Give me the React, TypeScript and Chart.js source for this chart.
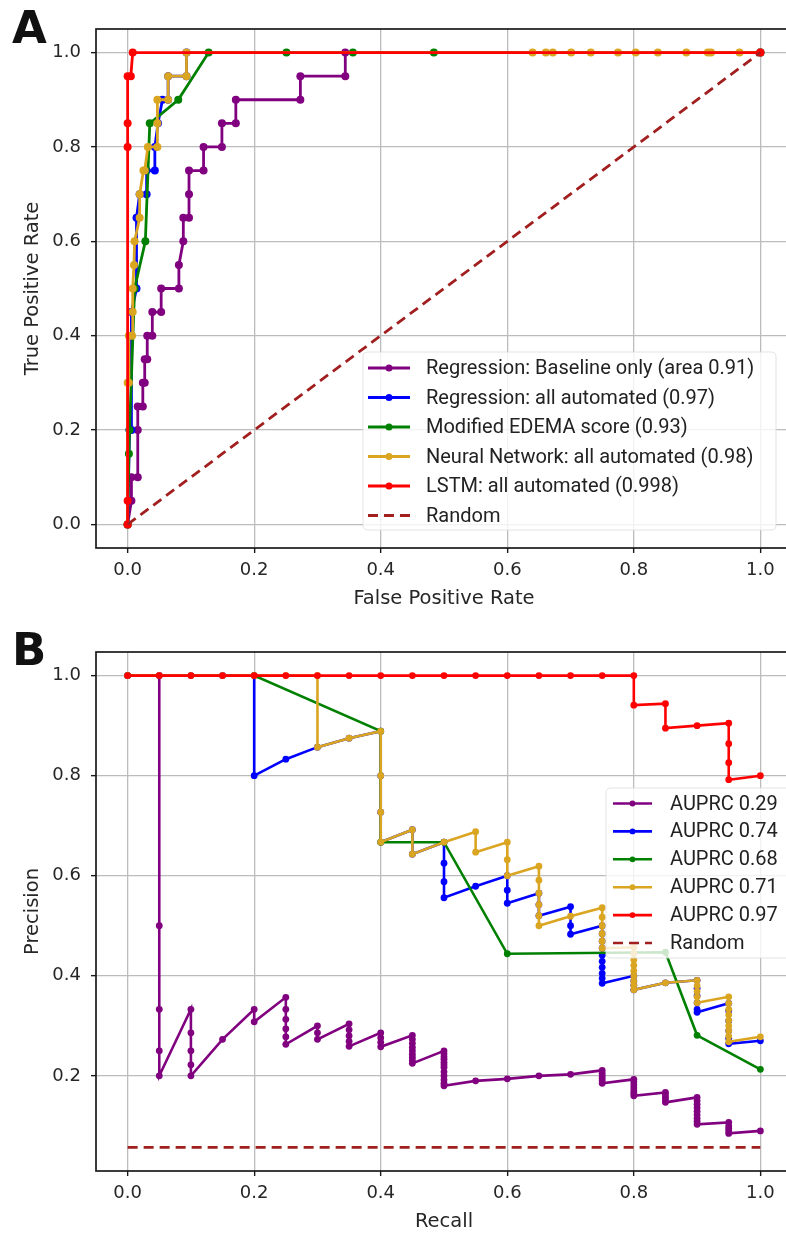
import React, { useEffect, useRef } from "react";
import { Chart, registerables } from "chart.js";

Chart.register(...registerables);

// ---------- tick values ----------
const X_TICKS = [0, 0.2, 0.4, 0.6, 0.8, 1.0];
const ROC_Y_TICKS = [0, 0.2, 0.4, 0.6, 0.8, 1.0];
const PR_Y_TICKS = [0.2, 0.4, 0.6, 0.8, 1.0];

// ---------- labels / colours ----------
const ROC_LABELS = [
  "Regression: Baseline only (area 0.91)",
  "Regression: all automated (0.97)",
  "Modified EDEMA score (0.93)",
  "Neural Network: all automated (0.98)",
  "LSTM: all automated (0.998)",
  "Random",
];
const PR_LABELS = ["AUPRC 0.29", "AUPRC 0.74", "AUPRC 0.68", "AUPRC 0.71", "AUPRC 0.97", "Random"];
const SERIES_COLORS = ["#800080", "#0000ff", "#008000", "#daa520", "#ff0000"];
const RANDOM_COLOR = "#a11f1f";

// ---------- ROC data: [FPR, TPR] ----------
const ROC_BASELINE: [number, number][] = [
  [0, 0], [0.006, 0.05], [0.006, 0.1], [0.016, 0.1], [0.016, 0.2], [0.016, 0.25], [0.024, 0.25],
  [0.024, 0.3], [0.027, 0.3], [0.027, 0.35], [0.031, 0.35], [0.031, 0.4], [0.039, 0.4], [0.039, 0.45],
  [0.053, 0.45], [0.053, 0.5], [0.081, 0.5], [0.081, 0.55], [0.088, 0.6], [0.088, 0.65], [0.097, 0.65],
  [0.097, 0.7], [0.097, 0.75], [0.12, 0.75], [0.12, 0.8], [0.149, 0.8], [0.149, 0.85], [0.171, 0.85],
  [0.171, 0.9], [0.273, 0.9], [0.273, 0.95], [0.344, 0.95], [0.344, 1.0], [1.0, 1.0],
];
const ROC_REGRESSION: [number, number][] = [
  [0, 0], [0.003, 0.2], [0.006, 0.2], [0.006, 0.45], [0.014, 0.5], [0.014, 0.65], [0.019, 0.7],
  [0.03, 0.7], [0.03, 0.75], [0.043, 0.75], [0.043, 0.8], [0.048, 0.85], [0.055, 0.9], [0.064, 0.9],
  [0.064, 0.95], [0.093, 0.95], [0.093, 1.0], [1.0, 1.0],
];
const ROC_EDEMA: [number, number][] = [
  [0, 0], [0.002, 0.15], [0.003, 0.2], [0.011, 0.5], [0.028, 0.6], [0.035, 0.85], [0.08, 0.9],
  [0.128, 1.0], [0.251, 1.0], [0.356, 1.0], [0.484, 1.0], [1.0, 1.0],
];
const ROC_NEURAL: [number, number][] = [
  [0, 0], [0, 0.3], [0.002, 0.3], [0.002, 0.4], [0.007, 0.4], [0.008, 0.45], [0.008, 0.5], [0.01, 0.55],
  [0.011, 0.6], [0.019, 0.65], [0.019, 0.7], [0.025, 0.75], [0.027, 0.75], [0.032, 0.8], [0.047, 0.8],
  [0.047, 0.85], [0.047, 0.9], [0.064, 0.9], [0.064, 0.95], [0.093, 0.95], [0.093, 1.0], [0.64, 1.0],
  [0.661, 1.0], [0.672, 1.0], [0.701, 1.0], [0.732, 1.0], [0.775, 1.0], [0.803, 1.0], [0.838, 1.0],
  [0.883, 1.0], [0.917, 1.0], [0.922, 1.0], [0.967, 1.0], [1.0, 1.0],
];
const ROC_LSTM: [number, number][] = [
  [0, 0], [0, 0.05], [0, 0.8], [0, 0.85], [0, 0.95], [0.005, 0.95], [0.008, 1.0], [1.0, 1.0],
];
const ROC_RANDOM: [number, number][] = [[0, 0], [1, 1]];

// ---------- PR data: [Recall, Precision] ----------
const PR_BASELINE: [number, number][] = [
  [0, 1.0], [0.05, 1.0], [0.05, 0.5], [0.05, 0.333], [0.05, 0.25], [0.05, 0.2],
  [0.1, 0.333], [0.1, 0.286], [0.1, 0.25], [0.1, 0.222], [0.1, 0.2],
  [0.15, 0.273],
  [0.2, 0.333], [0.2, 0.308],
  [0.25, 0.357], [0.25, 0.333], [0.25, 0.313], [0.25, 0.294], [0.25, 0.278], [0.25, 0.263],
  [0.3, 0.3], [0.3, 0.286], [0.3, 0.273],
  [0.35, 0.304], [0.35, 0.292], [0.35, 0.28], [0.35, 0.269], [0.35, 0.259],
  [0.4, 0.286], [0.4, 0.276], [0.4, 0.267], [0.4, 0.258],
  [0.45, 0.281], [0.45, 0.273], [0.45, 0.265], [0.45, 0.257], [0.45, 0.25], [0.45, 0.243], [0.45, 0.237], [0.45, 0.231], [0.45, 0.225],
  [0.5, 0.25], [0.5, 0.244], [0.5, 0.238], [0.5, 0.233], [0.5, 0.227], [0.5, 0.222], [0.5, 0.217], [0.5, 0.208], [0.5, 0.2], [0.5, 0.192], [0.5, 0.185], [0.5, 0.18],
  [0.55, 0.19], [0.6, 0.194], [0.65, 0.2], [0.7, 0.203],
  [0.75, 0.211], [0.75, 0.205], [0.75, 0.2], [0.75, 0.195], [0.75, 0.19], [0.75, 0.185],
  [0.8, 0.193], [0.8, 0.188], [0.8, 0.182], [0.8, 0.176], [0.8, 0.17], [0.8, 0.165], [0.8, 0.16],
  [0.85, 0.167], [0.85, 0.162], [0.85, 0.157], [0.85, 0.152], [0.85, 0.147],
  [0.9, 0.157], [0.9, 0.15], [0.9, 0.143], [0.9, 0.136], [0.9, 0.129], [0.9, 0.122], [0.9, 0.115], [0.9, 0.109], [0.9, 0.103],
  [0.95, 0.107], [0.95, 0.1], [0.95, 0.095], [0.95, 0.09], [0.95, 0.085],
  [1.0, 0.09],
];
const PR_REGRESSION: [number, number][] = [
  [0, 1], [0.05, 1], [0.1, 1], [0.15, 1], [0.2, 1], [0.2, 0.8], [0.25, 0.833], [0.3, 0.857], [0.35, 0.875],
  [0.4, 0.889], [0.4, 0.8], [0.4, 0.727], [0.4, 0.667], [0.45, 0.692], [0.45, 0.643], [0.5, 0.667],
  [0.5, 0.625], [0.5, 0.588], [0.5, 0.556], [0.55, 0.579], [0.6, 0.6], [0.6, 0.571], [0.6, 0.545],
  [0.65, 0.565], [0.65, 0.542], [0.65, 0.52], [0.7, 0.538], [0.7, 0.5], [0.7, 0.483], [0.75, 0.5],
  [0.75, 0.484], [0.75, 0.469], [0.75, 0.455], [0.75, 0.441], [0.75, 0.429], [0.75, 0.417], [0.75, 0.405],
  [0.75, 0.395], [0.75, 0.385], [0.8, 0.4], [0.8, 0.39], [0.8, 0.381], [0.8, 0.372], [0.85, 0.386],
  [0.9, 0.391], [0.9, 0.375], [0.9, 0.36], [0.9, 0.346], [0.9, 0.333], [0.9, 0.327], [0.95, 0.345],
  [0.95, 0.33], [0.95, 0.31], [0.95, 0.29], [0.95, 0.275], [0.95, 0.264], [1.0, 0.27],
];
const PR_EDEMA: [number, number][] = [
  [0, 1], [0.2, 1], [0.4, 0.889], [0.4, 0.667], [0.5, 0.667], [0.6, 0.444], [0.85, 0.447], [0.9, 0.281], [1.0, 0.213],
];
const PR_NEURAL: [number, number][] = [
  [0, 1], [0.05, 1], [0.1, 1], [0.15, 1], [0.2, 1], [0.25, 1], [0.3, 1], [0.3, 0.857], [0.35, 0.875],
  [0.4, 0.889], [0.4, 0.8], [0.4, 0.727], [0.4, 0.667], [0.45, 0.692], [0.45, 0.643], [0.5, 0.667],
  [0.55, 0.688], [0.55, 0.647], [0.6, 0.667], [0.6, 0.632], [0.6, 0.6], [0.65, 0.619], [0.65, 0.591],
  [0.65, 0.565], [0.65, 0.542], [0.65, 0.52], [0.65, 0.5], [0.7, 0.519], [0.75, 0.536], [0.75, 0.517],
  [0.75, 0.5], [0.75, 0.484], [0.75, 0.469], [0.75, 0.455], [0.8, 0.457], [0.8, 0.444], [0.8, 0.432],
  [0.8, 0.421], [0.8, 0.41], [0.8, 0.4], [0.8, 0.39], [0.8, 0.381], [0.8, 0.372], [0.85, 0.386],
  [0.9, 0.391], [0.9, 0.38], [0.9, 0.369], [0.9, 0.358], [0.9, 0.346], [0.95, 0.358], [0.95, 0.345],
  [0.95, 0.333], [0.95, 0.322], [0.95, 0.311], [0.95, 0.3], [0.95, 0.29], [0.95, 0.279], [0.95, 0.268],
  [1.0, 0.278],
];
const PR_LSTM: [number, number][] = [
  [0, 1], [0.05, 1], [0.1, 1], [0.15, 1], [0.2, 1], [0.25, 1], [0.3, 1], [0.35, 1], [0.4, 1], [0.45, 1],
  [0.5, 1], [0.55, 1], [0.6, 1], [0.65, 1], [0.7, 1], [0.75, 1], [0.8, 1], [0.8, 0.941], [0.85, 0.944],
  [0.85, 0.895], [0.9, 0.9], [0.95, 0.905], [0.95, 0.864], [0.95, 0.826], [0.95, 0.792], [1.0, 0.8],
];
const PR_RANDOM: [number, number][] = [[0, 0.057], [1, 0.057]];

// ---------- styling ----------
const AXIS_FONT = "'DejaVu Sans', sans-serif";
const LEGEND_FONT = "Roboto, 'DejaVu Sans', sans-serif";
const TEXT_COLOR = "#262626";

type LegendBox = {
  x: number; y: number; w: number; h: number;
  row0: number; step: number; h0: number; h1: number; textX: number; size: number;
};

function toPoints(arr: [number, number][]) {
  return arr.map(([x, y]) => ({ x, y }));
}

function makePlugin(L: LegendBox) {
  return {
    id: "frameLegend",
    afterDatasetsDraw(chart: any) {
      const { ctx, chartArea: a } = chart;
      ctx.save();
      ctx.strokeStyle = "#1a1a1a";
      ctx.lineWidth = 1.7;
      ctx.strokeRect(a.left, a.top, a.right - a.left, a.bottom - a.top);
      ctx.restore();
    },
    afterDraw(chart: any) {
      const ctx: CanvasRenderingContext2D = chart.ctx;
      ctx.save();
      const r = 5;
      ctx.beginPath();
      ctx.moveTo(L.x + r, L.y);
      ctx.lineTo(L.x + L.w - r, L.y);
      ctx.quadraticCurveTo(L.x + L.w, L.y, L.x + L.w, L.y + r);
      ctx.lineTo(L.x + L.w, L.y + L.h - r);
      ctx.quadraticCurveTo(L.x + L.w, L.y + L.h, L.x + L.w - r, L.y + L.h);
      ctx.lineTo(L.x + r, L.y + L.h);
      ctx.quadraticCurveTo(L.x, L.y + L.h, L.x, L.y + L.h - r);
      ctx.lineTo(L.x, L.y + r);
      ctx.quadraticCurveTo(L.x, L.y, L.x + r, L.y);
      ctx.closePath();
      ctx.fillStyle = "rgba(255,255,255,0.8)";
      ctx.fill();
      ctx.strokeStyle = "rgba(220,220,220,0.8)";
      ctx.lineWidth = 1;
      ctx.stroke();
      chart.data.datasets.forEach((ds: any, i: number) => {
        const y = L.row0 + i * L.step;
        ctx.strokeStyle = ds.borderColor;
        ctx.lineWidth = ds.borderWidth;
        ctx.setLineDash(ds.borderDash || []);
        ctx.beginPath();
        ctx.moveTo(L.h0, y);
        ctx.lineTo(L.h1, y);
        ctx.stroke();
        ctx.setLineDash([]);
        if (ds.pointRadius > 0) {
          ctx.fillStyle = ds.borderColor;
          ctx.beginPath();
          ctx.arc((L.h0 + L.h1) / 2, y, ds.pointRadius - 0.5, 0, Math.PI * 2);
          ctx.fill();
        }
        ctx.fillStyle = "#222";
        ctx.font = `${L.size}px ${LEGEND_FONT}`;
        ctx.textBaseline = "middle";
        ctx.textAlign = "left";
        ctx.fillText(ds.label, L.textX, y + 1);
      });
      ctx.restore();
    },
  };
}

function makeConfig(
  series: [number, number][][],
  random: [number, number][],
  labels: string[],
  xTitle: string,
  yTitle: string,
  yMin: number,
  yMax: number,
  yTicks: number[],
  legend: LegendBox,
  radius: number,
  lineWidth: number
): any {
  const n = series.length + 1;
  const datasets: any[] = series.map((s, i) => ({
    label: labels[i],
    data: toPoints(s),
    showLine: true,
    borderColor: SERIES_COLORS[i],
    backgroundColor: SERIES_COLORS[i],
    pointBackgroundColor: SERIES_COLORS[i],
    pointBorderWidth: 0,
    pointRadius: radius,
    borderWidth: lineWidth,
    tension: 0,
    order: n - i,
  }));
  datasets.push({
    label: labels[series.length],
    data: toPoints(random),
    showLine: true,
    borderColor: RANDOM_COLOR,
    backgroundColor: RANDOM_COLOR,
    borderDash: [10, 6],
    pointRadius: 0,
    borderWidth: lineWidth,
    order: 1,
  });
  const gridCommon = {
    color: "#bcbcbc",
    lineWidth: 1.3,
    drawTicks: true,
    tickLength: 5,
    tickColor: "#1a1a1a",
    tickWidth: 1.4,
  };
  return {
    type: "scatter",
    data: { datasets },
    options: {
      responsive: false,
      animation: false,
      events: [],
      layout: { padding: { top: 29, right: 18, bottom: 0, left: 0 } },
      plugins: { legend: { display: false }, tooltip: { enabled: false }, title: { display: false } },
      scales: {
        x: {
          type: "linear",
          min: -0.05,
          max: 1.05,
          afterFit: (s: any) => { s.height = 72; },
          afterBuildTicks: (s: any) => { s.ticks = X_TICKS.map((v) => ({ value: v })); },
          grid: gridCommon,
          border: { display: false },
          ticks: {
            autoSkip: false,
            maxRotation: 0,
            padding: 7,
            color: TEXT_COLOR,
            font: { family: AXIS_FONT, size: 18 },
            callback: (v: any) => Number(v).toFixed(1),
          },
          title: {
            display: true,
            text: xTitle,
            color: TEXT_COLOR,
            font: { family: AXIS_FONT, size: 19.5 },
            padding: { top: 0, bottom: 9 },
          },
        },
        y: {
          type: "linear",
          min: yMin,
          max: yMax,
          afterFit: (s: any) => { s.width = 96; },
          afterBuildTicks: (s: any) => { s.ticks = yTicks.map((v) => ({ value: v })); },
          grid: gridCommon,
          border: { display: false },
          ticks: {
            autoSkip: false,
            padding: 10,
            color: TEXT_COLOR,
            font: { family: AXIS_FONT, size: 18 },
            callback: (v: any) => Number(v).toFixed(1),
          },
          title: {
            display: true,
            text: yTitle,
            color: TEXT_COLOR,
            font: { family: AXIS_FONT, size: 19.5 },
            padding: { top: 21, bottom: 0 },
          },
        },
      },
    },
    plugins: [makePlugin(legend)],
  };
}

export default function App() {
  const rocRef = useRef<HTMLCanvasElement>(null);
  const prRef = useRef<HTMLCanvasElement>(null);

  useEffect(() => {
    const roc = new Chart(
      rocRef.current as HTMLCanvasElement,
      makeConfig(
        [ROC_BASELINE, ROC_REGRESSION, ROC_EDEMA, ROC_NEURAL, ROC_LSTM],
        ROC_RANDOM,
        ROC_LABELS,
        "False Positive Rate",
        "True Positive Rate",
        -0.05,
        1.05,
        ROC_Y_TICKS,
        { x: 363, y: 352, w: 413, h: 178, row0: 368, step: 29.5, h0: 368, h1: 410, textX: 426, size: 20 },
        4,
        2.8
      )
    );
    const pr = new Chart(
      prRef.current as HTMLCanvasElement,
      makeConfig(
        [PR_BASELINE, PR_REGRESSION, PR_EDEMA, PR_NEURAL, PR_LSTM],
        PR_RANDOM,
        PR_LABELS,
        "Recall",
        "Precision",
        0.0098,
        1.0472,
        PR_Y_TICKS,
        { x: 606, y: 165, w: 200, h: 170, row0: 180.5, step: 27.9, h0: 613, h1: 652, textX: 670, size: 20 },
        3.4,
        2.6
      )
    );
    return () => {
      roc.destroy();
      pr.destroy();
    };
  }, []);

  const letter: React.CSSProperties = {
    position: "absolute",
    left: 12,
    fontFamily: "'DejaVu Sans', sans-serif",
    fontWeight: "bold",
    fontSize: 45,
    lineHeight: "45px",
    color: "#111",
  };

  return (
    <div style={{ position: "fixed", left: 0, top: 0, width: 786, height: 1233, overflow: "hidden", background: "#fff" }}>
      <canvas ref={rocRef} width={810} height={620} style={{ position: "absolute", left: 0, top: 0 }} />
      <canvas ref={prRef} width={810} height={620} style={{ position: "absolute", left: 0, top: 623 }} />
      <div style={{ ...letter, top: 5 }}>A</div>
      <div style={{ ...letter, top: 627 }}>B</div>
    </div>
  );
}
